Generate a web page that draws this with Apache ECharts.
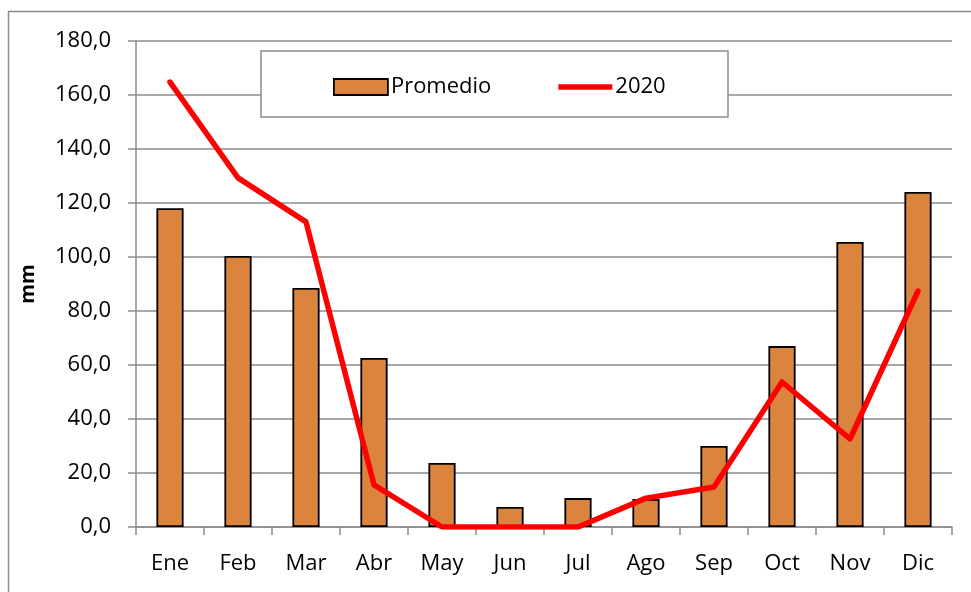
<!DOCTYPE html>
<html><head><meta charset="utf-8">
<script src="https://cdn.jsdelivr.net/npm/echarts@6/dist/echarts.min.js"></script>
<style>html,body{margin:0;padding:0;background:#fff}#c{width:971px;height:592px}</style>
</head><body><div id="c"></div>
<script>
const months = ['Ene','Feb','Mar','Abr','May','Jun','Jul','Ago','Sep','Oct','Nov','Dic'];
const promedio = [118.1, 100.4, 88.5, 62.6, 23.7, 7.4, 10.7, 10.4, 30.0, 67.0, 105.6, 124.1];
const y2020 = [164.8, 129.3, 113.0, 15.6, 0.0, 0.0, 0.0, 10.7, 14.8, 53.7, 32.6, 87.4];
const yTicks = {min: 0, max: 180, step: 20};

const font = '"Open Sans", "Liberation Sans", sans-serif';
const chart = echarts.init(document.getElementById('c'), null, {renderer: 'canvas'});
chart.setOption({
  animation: false,
  backgroundColor: '#fff',
  graphic: [
    {type: 'rect', shape: {x: 8.5, y: 11.5, width: 980, height: 600}, style: {fill: 'none', stroke: '#8c8c8c', lineWidth: 1.5}, z: -1},
    {type: 'rect', shape: {x: 261, y: 51, width: 467, height: 66}, style: {fill: '#fff', stroke: '#8c8c8c', lineWidth: 1.5}, z: 5}
  ],
  grid: {left: 136, right: 19, top: 41, bottom: 65},
  legend: {
    left: 328, top: 71, itemWidth: 54, itemHeight: 16, itemGap: 67, z: 10,
    textStyle: {fontFamily: font, fontSize: 22, color: '#000', padding: [0,0,0,-2]},
    data: [
      {name: 'Promedio', icon: 'rect', itemStyle: {color: '#db843d', borderColor: '#000', borderWidth: 1.8}},
      {name: '2020', icon: 'path://M0,5.3 L54,5.3 L54,10.7 L0,10.7 Z', itemStyle: {color: '#ff0000', borderWidth: 0}}
    ]
  },
  xAxis: {
    type: 'category', data: months, boundaryGap: true,
    axisLine: {lineStyle: {color: '#8c8c8c', width: 1.5}},
    axisTick: {show: true, length: 8, inside: false, lineStyle: {color: '#8c8c8c', width: 1.5}},
    axisLabel: {fontFamily: font, fontSize: 22, color: '#000', margin: 26}
  },
  yAxis: {
    type: 'value', min: yTicks.min, max: yTicks.max, interval: yTicks.step,
    name: 'mm', nameLocation: 'middle', nameGap: 98, nameRotate: 90,
    nameTextStyle: {fontFamily: font, fontSize: 20, fontWeight: 'bold', color: '#000'},
    axisLine: {show: true, lineStyle: {color: '#8c8c8c', width: 1.5}},
    axisTick: {show: true, length: 8, lineStyle: {color: '#8c8c8c', width: 1.5}},
    splitLine: {lineStyle: {color: '#8c8c8c', width: 1.5}},
    axisLabel: {fontFamily: font, fontSize: 22, color: '#000', margin: 25,
      formatter: v => v.toFixed(1).replace('.', ',')}
  },
  series: [
    {name: 'Promedio', type: 'bar', data: promedio, barWidth: '40%',
      itemStyle: {color: '#db843d', borderColor: '#000', borderWidth: 1.8}},
    {name: '2020', type: 'line', data: y2020, symbol: 'none', z: 4,
      lineStyle: {color: '#ff0000', width: 5.5, join: 'round', cap: 'round'}, itemStyle: {color: '#ff0000'}}
  ]
});
</script></body></html>
